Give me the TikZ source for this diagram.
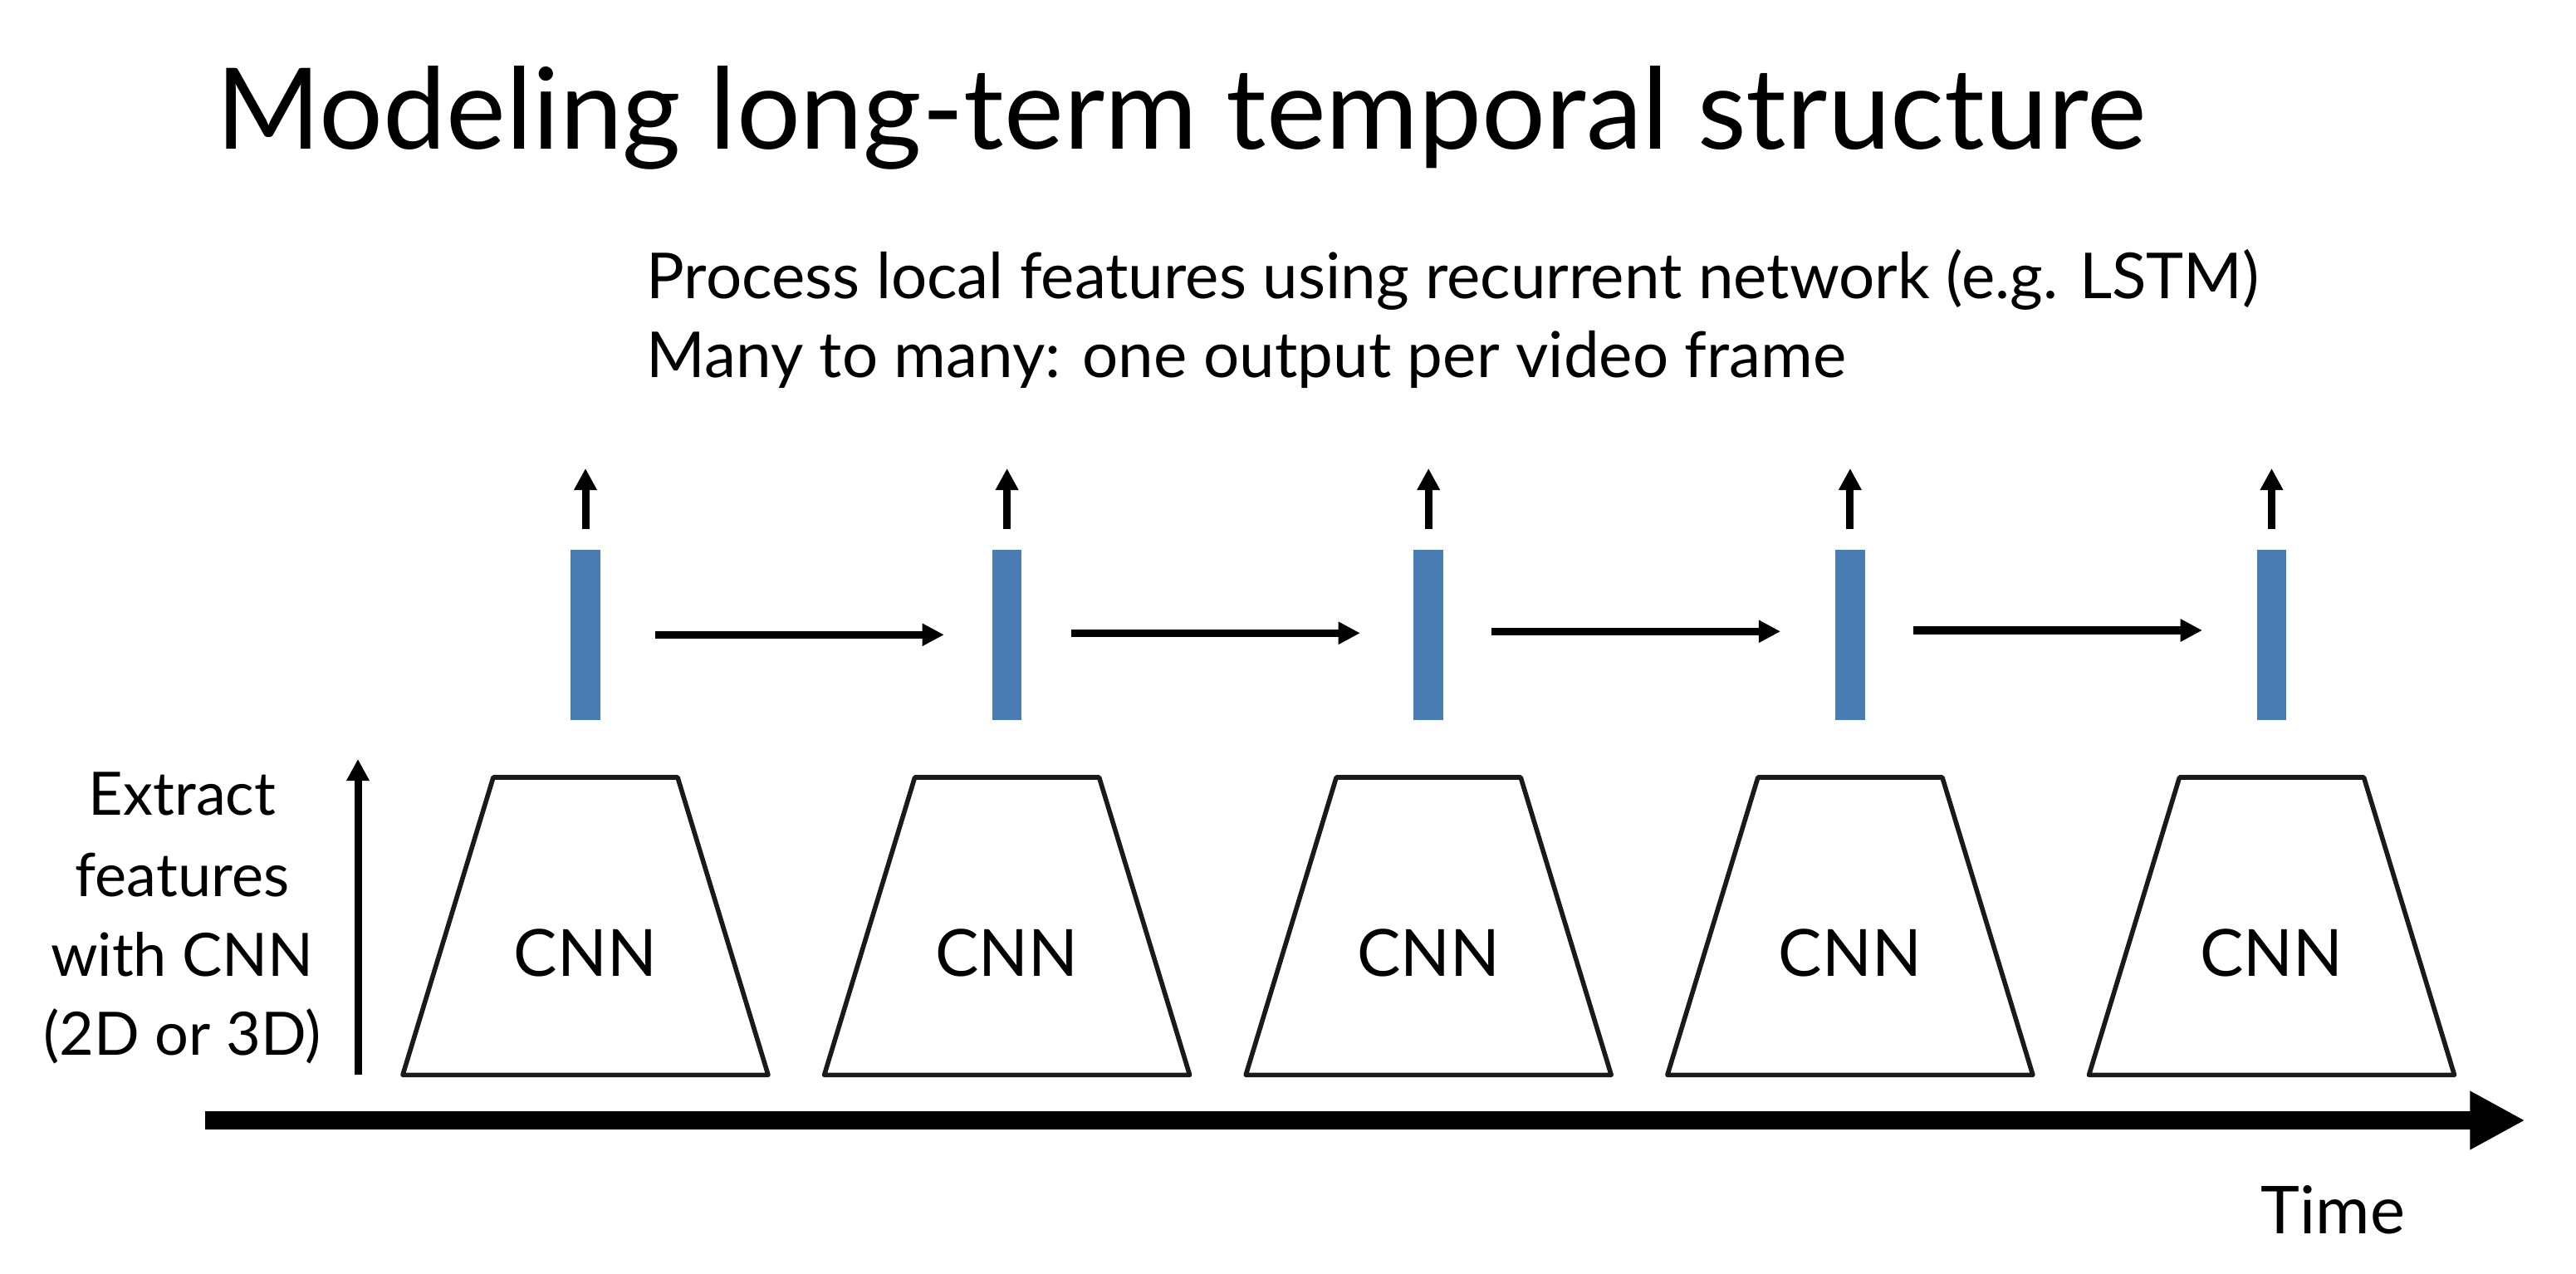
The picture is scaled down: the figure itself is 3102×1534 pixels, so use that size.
\documentclass[tikz,border=0pt]{standalone}
\usepackage{fontspec}
\setmainfont{Lato}
\usetikzlibrary{arrows.meta,calc}
\definecolor{barblue}{RGB}{74,124,180}
\definecolor{trapgray}{RGB}{26,26,26}
\begin{document}
\begin{tikzpicture}[x=0.01cm,y=-0.01cm,
  txt/.style={inner sep=0pt, text=black},
  bar/.style={fill=barblue, draw=none, minimum width=0.355cm, minimum height=2.047cm, inner sep=0pt, outer sep=0pt},
  cnnbox/.style={draw=trapgray, line width=0.056cm, line join=round},
  outarrow/.style={line width=0.09cm, -{Triangle[length=0.26cm,width=0.26cm]}},
  recarrow/.style={line width=0.093cm, -{Triangle[length=0.263cm,width=0.257cm]}},
  timearrow/.style={line width=0.226cm, -{Triangle[length=0.664cm,width=0.66cm]}},
  titlefont/.style={font=\fontsize{38.6pt}{45pt}\selectfont},
  subfont/.style={font=\fontsize{21.7pt}{27pt}\selectfont},
  cnnfont/.style={font=\fontsize{22.3pt}{27pt}\selectfont},
  leftfont/.style={font=\fontsize{20.5pt}{25pt}\selectfont},
  timefont/.style={font=\fontsize{22.6pt}{27pt}\selectfont},
]
\fill[white] (0,0) rectangle (3102,1534);
\useasboundingbox (0,0) rectangle (3102,1534);

% title and description
\node[txt, titlefont, anchor=base west] (title) at (260,180) {Modeling long-term temporal structure};
\node[txt, subfont, anchor=base west] (sub1) at (778,359.3) {Process local features using recurrent network (e.g. LSTM)};
\node[txt, subfont, anchor=base west] (sub2) at (778,455) {Many to many: one output per video frame};

% columns
\foreach \i/\c in {1/705, 2/1212.6, 3/1720.2, 4/2227.9, 5/2735.5}{
  \node[bar] (b\i) at (\c,764.3) {};
  \coordinate (o\i) at (\c,564);
  \draw[outarrow, shorten <=0.25cm] (b\i.north) -- (o\i);
  \draw[cnnbox] ({\c-220},1294.3) -- ({\c-111},936) -- ({\c+111},936) -- ({\c+220},1294.3) -- cycle;
  \node[txt, cnnfont, anchor=base] (cnn\i) at (\c,1175.7) {CNN};
}

% recurrent arrows
\draw[recarrow, shorten <=0.66cm, shorten >=0.58cm] (b1.east) -- (b2.west);
\draw[recarrow, shorten <=0.60cm, shorten >=0.645cm] ([yshift=0.02cm]b2.east) -- ([yshift=0.02cm]b3.west);
\draw[recarrow, shorten <=0.58cm, shorten >=0.66cm] ([yshift=0.04cm]b3.east) -- ([yshift=0.04cm]b4.west);
\draw[recarrow, shorten <=0.585cm, shorten >=0.657cm] ([yshift=0.053cm]b4.east) -- ([yshift=0.053cm]b5.west);

% left label and arrow
\node[txt, leftfont, anchor=base] (l1) at (219.5,981.7) {Extract};
\node[txt, leftfont, anchor=base] (l2) at (219.5,1080) {features};
\node[txt, leftfont, anchor=base] (l3) at (219.5,1175) {with CNN};
\node[txt, leftfont, anchor=base] (l4) at (219.5,1270) {(2D or 3D)};
\coordinate (la0) at (431,1294.3);
\coordinate (la1) at (431,914);
\draw[outarrow] (la0) -- (la1);

% time axis
\coordinate (t0) at (247,1349);
\coordinate (t1) at (3040.7,1349);
\draw[timearrow] (t0) -- (t1);
\node[txt, timefont, anchor=base west] (time) at (2722,1485.7) {Time};
\end{tikzpicture}
\end{document}
